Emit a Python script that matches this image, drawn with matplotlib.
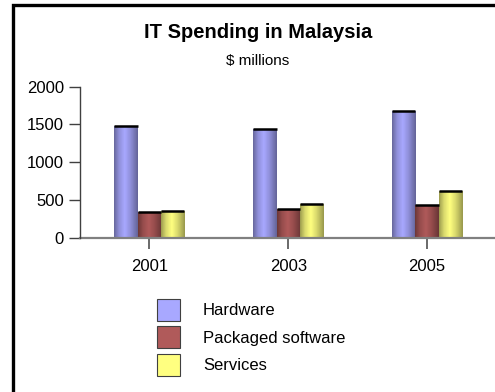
import matplotlib
matplotlib.use("Agg")
import matplotlib.pyplot as plt
import numpy as np
from matplotlib.patches import Patch, Rectangle
from matplotlib.colors import to_rgb

plt.rcParams['font.family'] = ['Liberation Sans', 'DejaVu Sans']

years = ['2001', '2003', '2005']
series = ['Hardware', 'Packaged software', 'Services']
hardware = [1480, 1440, 1680]
packaged = [340, 380, 430]
services = [355, 440, 620]
kolory = ['#a8a8ff', '#b05a5a', '#ffff80']

fig = plt.figure(figsize=(4.95, 3.92), dpi=100)
ax = fig.add_axes([80/495, 1-237.7/392, 416.4/495, 151/392])

x = np.arange(len(years))
w = 0.168
# cylinder-like shading across each bar
prof = np.interp(np.linspace(0, 1, 40), [0, 0.2, 0.45, 0.7, 1], [0.62, 0.85, 1.0, 0.85, 0.6])

for i, vals in enumerate([hardware, packaged, services]):
    pos = x + (i - 1) * w
    bars = ax.bar(pos, vals, width=w, color='none', edgecolor='none', zorder=2)
    base = np.array(to_rgb(kolory[i]))
    grad = np.clip(prof[None, :, None] * base[None, None, :], 0, 1)
    for b in bars:
        x0, y0 = b.get_x(), b.get_y()
        im = ax.imshow(grad, extent=(x0, x0 + b.get_width(), y0, y0 + b.get_height()),
                       aspect='auto', interpolation='bilinear', zorder=2)
        im.set_clip_path(b)
    ax.hlines(vals, pos - w/2, pos + w/2, colors='black', linewidth=1.8, zorder=3)

ax.set_xlim(-0.5, 2.5)
ax.set_ylim(0, 2000)
ax.set_xticks(x)
ax.set_xticklabels(years, fontsize=12)
ax.set_yticks([0, 500, 1000, 1500, 2000])
ax.tick_params(axis='y', direction='out', length=8, width=1, color='#404040', pad=3.5, labelsize=12)
ax.tick_params(axis='x', direction='out', length=8, width=1.2, color='#505050', pad=7, labelsize=12)
for s in ['top', 'right']:
    ax.spines[s].set_visible(False)
ax.spines['left'].set_color('#404040')
ax.spines['left'].set_linewidth(1)
ax.spines['bottom'].set_color('#808080')
ax.spines['bottom'].set_linewidth(1.6)
ax.spines['left'].set_zorder(4)

fig.text(258/495, 1-33/392, 'IT Spending in Malaysia', ha='center', va='center',
         fontsize=14.5, fontweight='bold')
fig.text(258/495, 1-61/392, '$ millions', ha='center', va='center', fontsize=11)

uchwyty = [Patch(facecolor=k, edgecolor='#404040', linewidth=0.8) for k in kolory]
fig.legend(uchwyty, series, loc='upper left', bbox_to_anchor=(157/495, 1-299/392),
           frameon=False, fontsize=12, handlelength=1.38, handleheight=1.65,
           labelspacing=0.33, handletextpad=1.38, borderpad=0, borderaxespad=0)

# frame on the left and top only
fig.add_artist(Rectangle((12.5/495, -0.1), 1.0, 1.1 - 4.5/392, transform=fig.transFigure,
                         facecolor='none', edgecolor='black', linewidth=2.4, clip_on=False))

fig.savefig('out.png', dpi=100)
